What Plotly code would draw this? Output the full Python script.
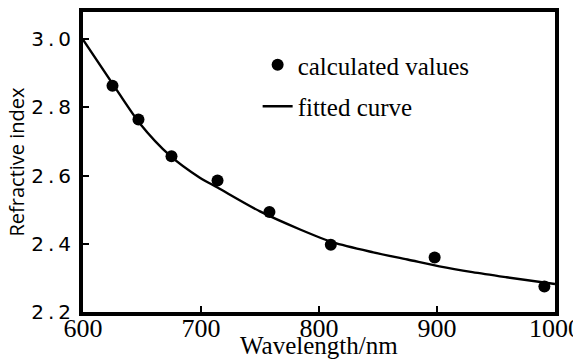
import plotly.graph_objects as go

# Calculated refractive index at each wavelength (nm)
calc_wavelength = [625, 647, 675, 714, 758, 810, 898, 991]
calc_index = [2.864, 2.765, 2.657, 2.586, 2.493, 2.397, 2.360, 2.275]

# Fitted dispersion curve, sampled along the wavelength range
fit_wavelength = [600, 625, 648, 674, 699, 714, 750, 784, 812, 846, 875, 902, 930, 959, 1000]
fit_index = [2.999, 2.870, 2.754, 2.658, 2.594, 2.565, 2.495, 2.442, 2.404, 2.375,
             2.354, 2.334, 2.317, 2.302, 2.282]

# Axis ticks
x_ticks = [600, 700, 800, 900, 1000]
x_ticktext = ["600", "700", "800", "900", "1000"]
y_ticks = [2.2, 2.4, 2.6, 2.8, 3.0]
y_ticktext = ["2\u2009.\u20092", "2\u2009.\u20094", "2\u2009.\u20096", "2\u2009.\u20098", "3\u2009.\u20090"]

SERIF = "Liberation Serif"

fig = go.Figure()

fig.add_trace(go.Scatter(
    x=calc_wavelength, y=calc_index, mode="markers",
    name="calculated values", legendgroup="a",
    marker=dict(color="black", size=12, symbol="circle"),
))
fig.add_trace(go.Scatter(
    x=fit_wavelength, y=fit_index, mode="lines",
    name="fitted curve", legendgroup="b",
    line=dict(color="black", width=2.4, shape="spline", smoothing=0.8),
))

fig.update_layout(
    width=573, height=360,
    margin=dict(l=83, r=18, t=12, b=48, autoexpand=False),
    paper_bgcolor="white", plot_bgcolor="white",
    showlegend=True,
    legend=dict(
        x=0.37, y=0.90, xanchor="left", yanchor="top",
        bgcolor="rgba(0,0,0,0)",
        font=dict(family=SERIF, size=25, color="black"),
        tracegroupgap=6, traceorder="grouped",
        itemwidth=30,
    ),
)

fig.update_xaxes(
    range=[600, 1000], tickvals=x_ticks, ticktext=x_ticktext,
    automargin=False, ticklabeloverflow="allow",
    showgrid=False, zeroline=False,
    showline=True, linecolor="black", linewidth=4, mirror=True,
    ticks="inside", ticklen=6, tickwidth=2, tickcolor="black",
    tickfont=dict(family=SERIF, size=26, color="black"),
    ticklabelstandoff=-10,
)
fig.update_yaxes(
    range=[2.2, 3.08], tickvals=y_ticks, ticktext=y_ticktext,
    automargin=False,
    showgrid=False, zeroline=False,
    showline=True, linecolor="black", linewidth=4, mirror=True,
    ticks="inside", ticklen=6, tickwidth=2, tickcolor="black",
    tickfont=dict(family="DejaVu Sans", size=20, color="black"),
    ticklabelstandoff=4,
    title=dict(text="Refractive index", standoff=2,
               font=dict(family="Open Sans", size=20, color="black")),
)

# x-axis title sits at the very bottom edge, below the tick labels
fig.add_annotation(
    text="Wavelength/nm", xref="paper", yref="paper",
    x=0.5, y=-0.112, xanchor="center", yanchor="middle",
    showarrow=False, font=dict(family=SERIF, size=25, color="black"),
)

fig.write_html("out.html")
